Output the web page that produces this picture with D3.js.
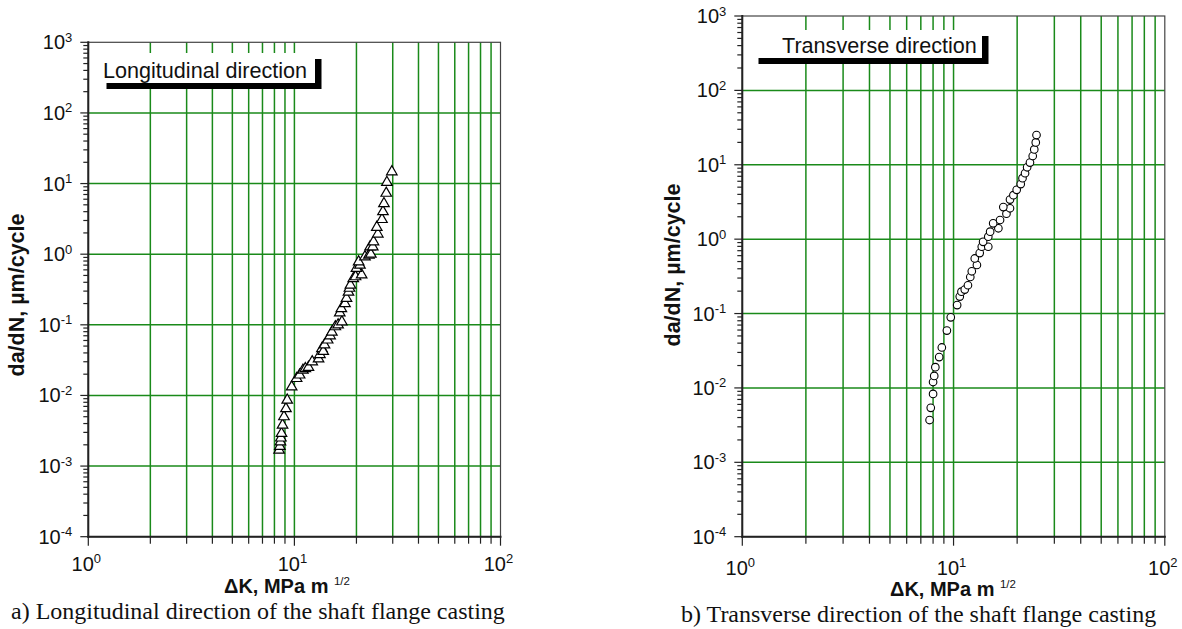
<!DOCTYPE html>
<html>
<head>
<meta charset="utf-8">
<script src="https://cdn.jsdelivr.net/npm/d3@7"></script>
<style>
  body { margin: 0; background: #fff; }
  text { font-family: Arial, "Liberation Sans", sans-serif; fill: #111; }
  .caption { font-family: "Times New Roman", "Liberation Serif", serif; }
</style>
</head>
<body>
<svg id="chart" width="1182" height="629"></svg>
<script>
// data: dK in MPa m^1/2, da/dN in um/cycle
const longK = [8.43, 8.50, 8.56, 8.60, 8.66, 8.76, 8.9, 9.1, 9.23, 9.7, 10.25, 10.6, 11.0, 11.3, 11.7,
  12.2, 13.1, 13.3, 13.6, 13.8, 14.0, 14.5, 14.9, 15.2, 15.8, 16.3, 17.0, 16.6, 16.9, 17.6, 17.9,
  18.3, 18.5, 18.7, 19.3, 19.8, 21.2, 20.0, 20.8, 20.5, 22.0, 23.0, 23.5, 23.3, 24.0, 24.2, 25.4,
  25.1, 26.6, 26.9, 27.2, 27.9, 28.1, 29.7];
const longRate = [0.00168, 0.0019, 0.0022, 0.0025, 0.0029, 0.0038, 0.0050, 0.0065, 0.0086, 0.0132,
  0.0174, 0.0195, 0.0228, 0.024, 0.025, 0.030, 0.033, 0.038, 0.046, 0.042, 0.052, 0.061, 0.070,
  0.079, 0.094, 0.10, 0.11, 0.148, 0.17, 0.20, 0.237, 0.29, 0.33, 0.365, 0.45, 0.48, 0.51, 0.63,
  0.70, 0.78, 0.92, 0.97, 1.0, 1.27, 1.27, 1.5, 1.93, 2.4, 3.1, 4.0, 5.2, 7.3, 10.4, 14.7];

const transK = [7.7, 7.8, 8.0, 8.0, 8.1, 8.2, 8.55, 8.8, 9.3, 9.7, 10.4, 10.7, 10.9, 11.3, 11.7,
  12.0, 12.2, 12.9, 12.6, 13.3, 13.6, 14.6, 13.8, 14.6, 14.9, 16.3, 15.4, 16.6, 17.8, 18.5, 17.2,
  18.5, 19.2, 19.9, 20.8, 21.2, 21.8, 22.3, 23.0, 23.7, 24.1, 24.5, 24.7];
const transRate = [0.0037, 0.0054, 0.0083, 0.012, 0.0145, 0.019, 0.026, 0.035, 0.059, 0.089, 0.13,
  0.169, 0.197, 0.21, 0.24, 0.31, 0.37, 0.45, 0.55, 0.65, 0.79, 0.79, 0.92, 1.08, 1.26, 1.40, 1.63,
  1.81, 2.2, 2.6, 2.7, 3.4, 3.9, 4.6, 5.5, 6.6, 7.7, 9.25, 10.7, 13.1, 16.1, 20, 25.1];

const kDomain = [1, 100];
const rateDomain = [1e-4, 1e3];
const xTitle = "\u0394K, MPa m";
const yTitle = "da/dN, \u00b5m/cycle";

const svg = d3.select("#chart");
const gridGreen = "#1a8a1a";

function powerLabel(g, x, y, exp, anchor) {
  const t = g.append("text")
    .attr("x", x).attr("y", y)
    .attr("text-anchor", anchor)
    .style("font-size", "20px");
  t.append("tspan").text("10");
  t.append("tspan").attr("dy", -7.5).style("font-size", "13px").text(exp);
}

function drawPanel(p) {
  const x = d3.scaleLog().domain(kDomain).range([p.left, p.right]);
  const y = d3.scaleLog().domain(rateDomain).range([p.bottom, p.top]);
  const g = svg.append("g");

  const isMajor = v => Math.abs(Math.log10(v) - Math.round(Math.log10(v))) < 1e-9;
  const xt = x.ticks();
  const yt = y.ticks();

  // grid
  g.selectAll(".vgrid").data(xt.filter(v => v > kDomain[0] && v < kDomain[1]))
    .enter().append("line")
    .attr("x1", d => x(d)).attr("x2", d => x(d))
    .attr("y1", p.top).attr("y2", p.bottom)
    .attr("stroke", gridGreen).attr("stroke-width", 1.5);
  g.selectAll(".hgrid").data(yt.filter(v => isMajor(v) && v > rateDomain[0] && v < rateDomain[1]))
    .enter().append("line")
    .attr("x1", p.left).attr("x2", p.right)
    .attr("y1", d => y(d)).attr("y2", d => y(d))
    .attr("stroke", gridGreen).attr("stroke-width", 1.5);

  // frame
  g.append("rect")
    .attr("x", p.left).attr("y", p.top)
    .attr("width", p.right - p.left).attr("height", p.bottom - p.top)
    .attr("fill", "none").attr("stroke", "#444").attr("stroke-width", 1.2);
  g.append("line").attr("x1", p.left).attr("x2", p.left).attr("y1", p.top - 1).attr("y2", p.bottom + 1)
    .attr("stroke", "#222").attr("stroke-width", 2);
  g.append("line").attr("x1", p.left - 1).attr("x2", p.right + 1).attr("y1", p.bottom).attr("y2", p.bottom)
    .attr("stroke", "#222").attr("stroke-width", 2);

  // ticks
  g.selectAll(".yt").data(yt).enter().append("line")
    .attr("x1", p.left).attr("x2", d => p.left - (isMajor(d) ? 8 : 5))
    .attr("y1", d => y(d)).attr("y2", d => y(d))
    .attr("stroke", "#222").attr("stroke-width", 1.2);
  g.selectAll(".xt").data(xt).enter().append("line")
    .attr("y1", p.bottom).attr("y2", d => p.bottom + (isMajor(d) ? 9 : 7))
    .attr("x1", d => x(d)).attr("x2", d => x(d))
    .attr("stroke", "#222").attr("stroke-width", 1.2);

  // tick labels
  yt.filter(isMajor).forEach(v => {
    powerLabel(g, p.left - 16, y(v) + 7, String(Math.round(Math.log10(v))), "end");
  });
  xt.filter(isMajor).forEach(v => {
    powerLabel(g, x(v) - 2, p.bottom + p.xLabelDy, String(Math.round(Math.log10(v))), "middle");
  });

  // axis titles
  const xtTxt = g.append("text")
    .attr("x", p.xTitleX).attr("y", p.xTitleY)
    .attr("text-anchor", "middle")
    .style("font-size", "20px").style("font-weight", "bold");
  xtTxt.append("tspan").text(xTitle + " ");
  xtTxt.append("tspan").attr("dy", -8).style("font-size", "11.5px").style("font-weight", "normal").text("1/2");

  g.append("text")
    .attr("transform", `translate(${p.yTitleX},${p.yTitleY}) rotate(-90)`)
    .attr("text-anchor", "middle")
    .style("font-size", "21.5px").style("font-weight", "bold")
    .text(yTitle);

  // legend box with shadow
  const lb = p.legend;
  g.append("rect").attr("x", lb.x + 6.5).attr("y", lb.y + 6).attr("width", lb.w).attr("height", lb.h).attr("fill", "#000");
  g.append("rect").attr("x", lb.x).attr("y", lb.y).attr("width", lb.w).attr("height", lb.h).attr("fill", "#fff");
  g.append("text").attr("x", lb.tx).attr("y", lb.ty)
    .style("font-size", "21.6px").text(lb.text);

  // points
  const pts = p.k.map((k, i) => ({ k, r: p.rate[i] }));
  if (p.marker === "triangle") {
    g.selectAll(".pt").data(pts).enter().append("path")
      .attr("d", d3.symbol(d3.symbolTriangle, 48))
      .attr("transform", d => `translate(${x(d.k)},${y(d.r)})`)
      .attr("fill", "#fff").attr("stroke", "#000").attr("stroke-width", 1.2);
  } else {
    g.selectAll(".pt").data(pts).enter().append("circle")
      .attr("cx", d => x(d.k)).attr("cy", d => y(d.r)).attr("r", 3.8)
      .attr("fill", "#fff").attr("stroke", "#000").attr("stroke-width", 1.1);
  }

  // caption
  svg.append("text").attr("class", "caption")
    .attr("x", p.capX).attr("y", p.capY)
    .style("font-size", "24px")
    .text(p.caption);
}

drawPanel({
  left: 88.3, right: 500.5, top: 42.3, bottom: 536.7,
  k: longK, rate: longRate, marker: "triangle",
  xLabelDy: 34, xTitleX: 287, xTitleY: 592.5, yTitleX: 24, yTitleY: 295,
  legend: { x: 100, y: 53, w: 215, h: 30, tx: 103, ty: 78.3, text: "Longitudinal direction" },
  capX: 11, capY: 619, caption: "a) Longitudinal direction of the shaft flange casting"
});

drawPanel({
  left: 742.3, right: 1164.8, top: 16, bottom: 536.7,
  k: transK, rate: transRate, marker: "circle",
  xLabelDy: 38, xTitleX: 953, xTitleY: 596, yTitleX: 680, yTitleY: 265,
  legend: { x: 752, y: 30, w: 230, h: 28, tx: 782, ty: 53.3, text: "Transverse direction" },
  capX: 681, capY: 621.5, caption: "b) Transverse direction of the shaft flange casting"
});
</script>
</body>
</html>
